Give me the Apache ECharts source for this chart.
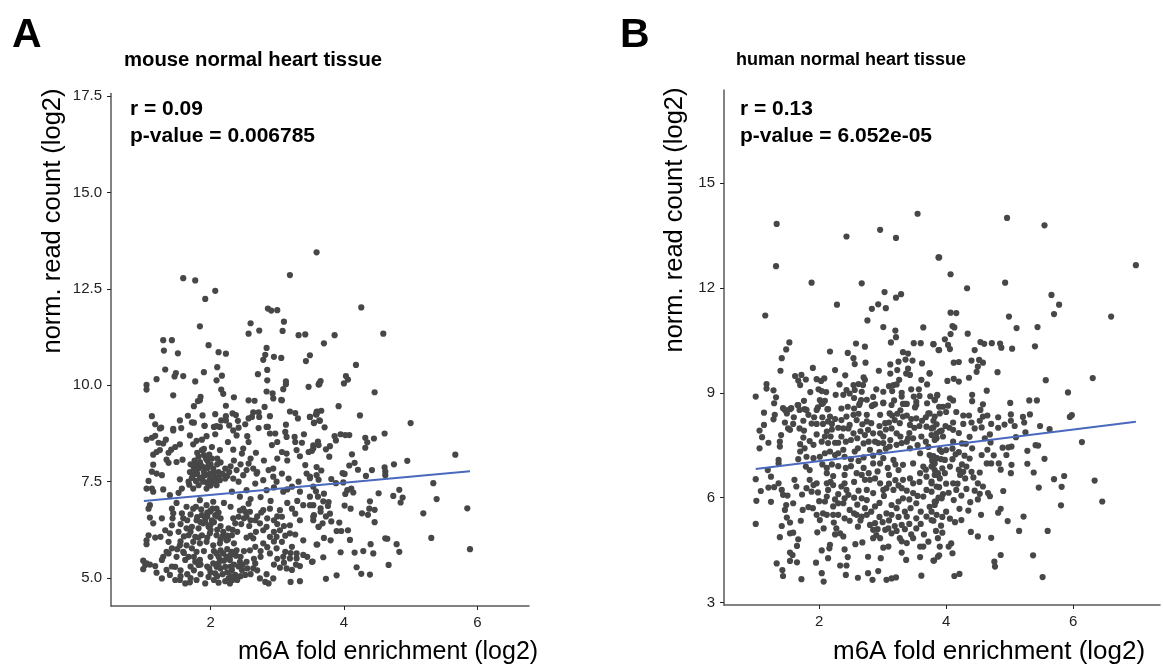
<!DOCTYPE html>
<html>
<head>
<meta charset="utf-8">
<style>html,body{margin:0;padding:0;background:#fff}#chart{width:1163px;height:664px}</style>
<script src="https://cdn.jsdelivr.net/npm/echarts@6/dist/echarts.min.js"></script>
</head>
<body>
<div id="chart"></div>
<script>
const mousePoints = [
[1.59,12.78],[1.77,12.72],[2.07,12.45],[1.92,12.24],[3.59,13.45],[3.19,12.86],[2.86,11.99],[2.91,11.94],[3.0,11.95],[3.10,11.65],[3.08,11.41],[2.60,11.61],[2.57,11.34],[2.73,11.42],[3.32,11.30],[3.42,11.32],[1.84,11.53],[1.29,11.17],[1.42,11.17],[1.30,10.90],[1.51,10.83],[1.97,11.04],[2.12,10.86],[2.23,10.82],[2.84,10.97],[2.82,10.79],[2.79,10.66],[2.95,10.74],[3.06,10.71],[3.49,10.78],[3.43,10.63],[1.32,10.41],[1.48,10.32],[1.46,10.23],[1.59,10.24],[1.19,10.16],[1.04,10.01],[1.04,9.89],[1.90,10.34],[1.77,10.10],[2.10,10.47],[2.17,10.25],[2.09,10.13],[2.85,10.40],[2.71,10.29],[2.85,10.13],[3.13,10.10],[3.13,10.03],[3.09,9.90],[3.47,9.96],[3.63,10.06],[3.62,10.02],[2.16,9.89],[2.19,9.78],[1.44,9.74],[1.85,9.70],[1.84,9.61],[1.81,9.59],[1.75,9.46],[2.35,9.69],[2.23,9.47],[2.57,9.61],[2.66,9.60],[2.84,9.84],[2.93,9.79],[2.94,9.66],[3.06,9.62],[3.07,9.61],[2.81,9.44],[1.12,9.20],[1.54,9.09],[1.66,9.21],[1.88,9.22],[2.07,9.25],[2.23,9.20],[2.33,9.27],[2.38,9.23],[2.64,9.30],[2.72,9.30],[2.62,9.18],[2.73,9.18],[2.57,9.14],[2.89,9.20],[3.19,9.32],[3.27,9.28],[3.31,9.14],[3.49,9.18],[3.60,9.32],[3.59,9.25],[3.55,9.03],[3.63,9.09],[2.16,9.09],[2.23,9.09],[2.41,9.08],[1.72,9.04],[1.75,9.03],[3.13,8.98],[1.91,8.95],[1.17,8.99],[1.26,8.90],[1.44,8.87],[1.56,8.89],[2.05,8.92],[2.14,8.92],[2.28,8.96],[2.52,8.99],[2.86,8.92],[2.72,8.89],[2.42,8.90],
[1.24,8.88],[1.44,8.83],[1.69,8.70],[1.04,8.59],[1.12,8.64],[1.17,8.69],[1.33,8.59],[1.22,8.51],[1.29,8.49],[1.54,8.47],[1.47,8.40],[1.41,8.33],[1.37,8.25],[1.24,8.32],[1.19,8.27],[1.14,8.20],[1.79,8.56],[1.87,8.59],[1.94,8.68],[2.07,8.73],[1.74,8.47],[2.02,8.40],[1.91,8.95],[2.09,8.94],[2.26,8.53],[2.34,8.83],[2.39,8.70],[2.55,8.68],[2.57,8.53],[2.49,8.36],[2.47,8.23],[2.14,8.32],[2.34,8.33],[2.68,8.25],[2.84,8.92],[2.89,8.75],[2.97,8.75],[3.12,8.79],[3.0,8.53],[2.92,8.45],[3.14,8.66],[3.26,8.66],[3.27,8.53],[3.37,8.51],[3.40,8.73],[3.07,8.27],[3.14,8.23],[3.29,8.32],[3.34,8.16],[3.47,8.27],[3.54,8.36],[3.62,8.45],
[1.34,8.07],[1.37,7.99],[1.49,8.01],[1.58,8.07],[1.14,7.94],[1.12,7.76],[1.19,7.71],[1.27,7.67],[1.07,7.52],[1.04,7.32],[1.12,7.32],[1.14,7.24],[1.29,7.30],[1.39,7.15],[1.54,7.56],[1.52,7.21],[1.57,7.32],[1.67,7.50],
[1.87,8.32],[1.90,8.19],[1.93,8.10],[1.84,8.01],[1.77,7.93],[1.82,7.84],[1.69,7.75],[1.74,7.67],[1.89,7.88],[1.97,7.93],[2.04,7.84],[1.99,7.71],[1.92,7.67],[1.84,7.58],[1.89,7.50],[1.99,7.54],[2.07,7.62],[2.12,7.75],[2.22,7.84],[2.14,7.54],[2.09,7.41],[1.82,7.41],[1.74,7.32],[1.94,7.32],[2.22,7.58],
[2.39,7.80],[2.57,7.97],[2.54,7.80],[2.64,7.84],[2.69,7.71],[2.49,7.67],[2.34,7.58],[2.42,7.50],[2.79,7.54],[2.94,7.84],[2.87,7.80],[2.94,7.63],[2.99,7.50],[3.07,7.71],[3.17,7.58],[3.32,7.50],[3.22,7.37],[3.09,7.24],[3.34,7.24],[3.44,7.71],[3.49,7.63],[3.59,7.67],[3.54,7.37],[3.42,7.93],[3.59,7.88],[2.67,7.45],[2.54,7.28],[2.84,7.28],[2.32,7.24],[2.44,7.11],
[1.49,6.95],[1.09,6.89],[1.07,6.80],[1.09,6.57],[1.14,6.42],[1.27,6.55],[1.07,6.11],[1.04,5.98],[1.04,5.88],[1.17,6.05],[1.25,6.07],[1.32,6.24],[1.42,6.80],[1.44,6.68],[1.43,6.55],[1.42,6.37],[1.39,6.16],[1.37,5.94],[1.57,6.68],[1.59,6.55],[1.64,6.85],[1.74,6.80],
[1.84,7.02],[1.94,6.89],[2.04,6.98],[2.09,6.80],[1.99,6.72],[1.87,6.63],[1.79,6.50],[1.92,6.55],[2.02,6.50],[2.07,6.63],[1.89,6.42],[1.97,6.33],[1.82,6.29],[1.72,6.33],[1.64,6.29],[1.67,6.11],[1.77,6.07],[1.87,6.11],[1.99,6.16],[2.09,6.11],[2.19,6.20],[2.27,6.29],[2.32,6.11],[2.37,6.42],[2.42,6.59],[2.34,6.55],[2.49,6.80],[2.57,6.93],[2.59,6.72],[2.54,6.59],[2.67,6.50],[2.74,6.42],[2.79,6.24],[2.84,6.33],[2.89,6.07],[2.79,6.76],[2.89,6.80],[3.04,6.76],[3.07,6.59],[3.22,6.80],[3.27,6.67],[3.39,6.89],[3.49,6.89],[3.54,6.59],[3.62,6.33],[3.34,6.50],[3.19,6.37],[3.19,6.16],[3.04,6.24],[2.99,6.07],[3.07,5.94],[2.79,5.90],[2.64,6.03],[2.54,6.05],[2.67,5.81],[2.59,5.72],[2.24,5.98],[2.14,5.90],[2.04,5.85],[1.94,5.94],[1.84,5.90],[1.74,5.94],[1.64,5.85],[1.54,5.85],[1.42,5.77],[1.34,5.68],[1.29,5.55],[1.27,5.47],[1.37,5.64],[1.59,5.68],[1.72,5.77],[1.79,5.68],[1.67,5.55],[1.77,5.42],[1.84,5.47],[1.82,5.34],[1.62,5.47],[1.49,5.55],[1.47,5.29],[1.34,5.21],[1.19,5.14],[1.27,4.99],[1.39,5.08],[1.47,4.95],[1.54,4.95],[1.62,4.86],[1.69,4.89],[1.79,4.95],[1.92,4.86],[1.97,5.03],[2.07,5.12],[2.09,5.29],[2.04,5.38],[2.14,5.47],[2.09,5.64],[2.19,5.64],[2.24,5.55],[2.32,5.68],[2.39,5.72],[2.29,5.47],[2.22,5.29],[2.32,5.21],[2.27,4.99],[2.29,4.86],[2.37,5.08],[2.47,5.21],[2.52,5.08],[2.44,5.42],[2.54,5.42],[2.67,5.38],[2.64,5.25],[2.89,5.64],[2.99,5.77],[3.12,5.68],[3.22,5.81],[3.29,5.64],[3.39,5.60],[3.09,5.55],[3.19,5.51],[3.29,5.51],[3.34,5.31],[3.22,5.21],[3.14,5.25],[3.04,5.27],[3.52,5.42],[3.59,5.87],[3.39,5.98],[3.27,6.13],[2.84,5.10],[2.74,4.99],[2.82,4.90],[2.87,4.86],[2.94,4.99],[3.20,4.90],[3.34,4.92],[0.99,5.45],[1.02,5.34],[0.99,5.23],[1.09,5.35],[1.17,5.31],[1.04,5.38],
[2.0,6.75],[2.1,6.6],[1.95,6.6],[2.05,6.45],[1.85,6.45],[2.15,6.35],[2.0,6.25],[2.25,6.1],[2.15,6.0],[2.35,5.9],[2.25,5.75],[2.3,5.6],[2.2,5.45],[2.35,5.35],[2.15,5.25],[2.25,5.15],[2.1,5.05],[2.3,5.05],[2.0,5.15],[2.45,5.05],[1.75,5.55],[1.85,5.35],[1.7,5.3],[1.6,5.65],[1.9,5.7],[2.0,5.55],[2.45,5.55],[2.5,5.7],[2.65,5.5],[2.75,5.55],[2.85,5.8],[2.95,5.95],[3.0,5.5],[1.9,7.75],[2.0,7.6],[1.95,7.85],[2.05,7.75],[1.8,7.7],[1.85,7.95],[1.95,8.05],[2.0,7.4],[1.75,7.85],
[1.7,7.95],[1.76,8.05],[1.82,8.15],[1.98,8.2],[2.02,8.1],[1.72,7.6],[1.78,7.52],[1.96,7.45],[2.06,7.5],[2.1,7.95],[2.15,8.0],[1.8,8.25],[1.68,7.42],[1.9,8.35],[1.95,7.48],[2.12,7.6],[2.18,7.7],[2.28,7.75],[2.3,7.9],[2.25,7.65],[2.0,7.95],[1.88,7.62],[1.78,7.75],[2.1,8.1],
[1.78,6.85],[1.86,6.78],[1.95,6.7],[2.03,6.8],[2.12,6.7],[2.15,6.55],[1.8,6.58],[1.92,6.45],[2.0,6.38],[2.1,6.25],[2.18,6.08],[2.26,6.0],[2.33,6.25],[2.4,6.2],[2.46,6.4],[2.5,6.55],[2.44,6.75],[2.52,6.72],[2.6,6.5],[2.58,6.35],[2.7,6.6],[2.76,6.7],[2.85,6.55],[2.95,6.5],[3.0,6.4],[3.1,6.35],[3.12,6.1],[2.95,6.2],[2.68,6.2],[2.6,6.1],[1.95,6.05],[1.82,6.05],[1.7,6.2],[1.6,6.08],[1.52,6.2],[1.55,6.4],[1.65,6.5],[1.7,6.65],[1.55,5.95],[1.5,5.75],
[2.05,5.7],[2.15,5.72],[2.12,5.55],[2.28,5.5],[2.38,5.58],[2.42,5.3],[2.3,5.3],[2.12,5.38],[1.98,5.25],[2.18,5.1],[2.33,4.95],[2.22,4.92],[2.4,4.95],[2.05,4.95],[2.12,4.88],[2.48,5.35],[2.55,5.25],[2.6,5.1],[1.95,5.3],[1.75,5.2],[1.65,5.1],[1.55,5.2],[1.42,5.3],[1.85,5.1],[1.7,5.0],[1.55,5.05],[2.7,5.2],[2.75,5.7],[2.95,5.35],[3.1,5.4],[3.2,5.65],[3.28,5.35],[3.45,5.55],[3.0,6.6],[3.15,6.95],[3.3,7.0],[2.6,7.05],[2.75,7.1],[2.9,7.0],[2.3,6.85],[2.2,6.95],[3.15,7.3],[2.95,7.35],[2.7,7.75],[2.45,7.95],[2.35,8.05],[2.6,8.1],[2.8,8.05],[3.0,8.1],[3.15,8.05],
[4.26,12.02],[3.86,11.30],[4.59,11.34],[3.70,11.09],[4.18,10.53],[4.03,10.24],[4.06,10.15],[4.00,10.05],[3.65,10.11],[3.63,10.03],[4.46,9.82],[3.92,9.46],[4.24,9.22],[5.0,9.02],[3.66,9.34],[3.59,9.31],[3.58,9.24],[3.49,9.18],[3.55,9.02],[3.64,9.08],[3.71,8.91],[3.86,8.68],[3.88,8.57],[3.95,8.73],[4.02,8.71],[4.08,8.71],[4.32,8.64],[4.35,8.52],[4.45,8.62],[4.61,8.75],[4.32,8.38],[3.61,8.54],[3.54,8.44],[3.52,8.30],[3.73,8.34],[3.79,8.42],[3.78,8.15],[4.12,8.21],[5.67,8.20],[4.95,8.04],[4.75,7.95],[4.16,7.99],[4.08,7.92],[4.21,7.81],[4.42,7.80],[4.61,7.87],[4.62,7.76],[4.62,7.67],[4.33,7.65],[3.66,7.79],[3.98,7.72],[4.01,7.70],[3.49,7.59],[3.62,7.55],[3.81,7.57],[3.88,7.46],[3.99,7.48],[5.34,7.46],[4.83,7.29],[4.74,7.13],[4.52,7.20],[4.11,7.32],[4.05,7.28],[4.02,7.18],[4.14,7.22],[3.70,7.19],[3.58,7.25],[3.61,7.11],[3.49,7.11],[3.69,6.99],[3.77,6.97],[3.76,6.87],[3.54,6.89],[3.65,6.81],[3.65,6.72],[4.01,6.88],[4.10,6.80],[4.39,6.99],[4.88,7.09],[4.85,6.96],[5.39,7.05],[5.85,6.81],[5.19,6.68],[4.38,6.80],[4.46,6.77],[4.27,6.68],[4.36,6.64],[4.46,6.45],[3.79,6.67],[3.73,6.60],[3.55,6.63],[3.54,6.50],[3.68,6.42],[3.81,6.47],[3.93,6.44],[3.62,6.33],[3.89,6.22],[3.96,6.22],[4.06,6.24],[3.70,6.04],[3.80,5.98],[4.09,5.99],[4.62,6.03],[4.65,6.02],[5.31,6.04],[3.60,5.87],[4.40,5.88],[4.79,5.88],[5.89,5.75],[3.95,5.67],[4.16,5.66],[4.29,5.70],[4.44,5.64],[4.83,5.68],[3.69,5.54],[3.53,5.43],[4.67,5.34],[4.19,5.28],[4.26,5.11],[4.39,5.09],[3.89,5.07],[3.73,4.98]
];
const humanPoints = [
[1.33,13.83],[1.32,12.62],[1.15,11.21],[1.88,12.15],[2.43,13.47],[2.96,13.66],[3.21,13.43],[3.55,14.12],[3.88,12.87],[2.67,12.13],[3.03,11.88],[3.21,11.72],[3.29,11.82],[2.28,11.52],[2.83,11.40],[2.93,11.53],[3.05,11.42],[2.76,11.07],[3.01,10.88],[3.20,10.78],[3.21,10.59],[3.64,10.87],[1.53,10.44],[1.48,10.24],[1.41,9.99],[1.39,9.63],[2.17,10.18],[2.45,10.14],[2.58,10.41],[2.72,10.32],[2.54,9.99],[2.56,9.82],[2.73,9.86],[3.13,10.44],[3.32,10.16],[3.40,10.12],[3.49,10.42],[3.60,10.42],[3.80,10.39],[3.88,10.22],[3.36,9.95],[3.47,9.92],[3.25,9.89],[3.12,9.81],[3.62,9.84],[3.40,9.69],[3.23,9.65],[2.94,9.63],[3.12,9.55],[3.37,9.55],[3.43,9.51],[3.74,9.55],[1.90,9.71],[2.25,9.65],[2.41,9.50],[1.62,9.48],[1.72,9.51],[1.67,9.35],[1.79,9.38],[1.70,9.22],[1.96,9.39],[2.08,9.41],[2.03,9.34],[2.32,9.24],[2.70,9.44],[2.72,9.37],[2.69,9.22],[2.62,9.25],[2.54,9.22],[2.56,9.08],[2.43,9.08],[2.48,8.98],[2.38,8.94],[2.26,8.94],[2.67,9.03],[3.01,9.03],[3.10,9.19],[3.17,9.22],[3.22,9.24],[3.26,9.37],[3.61,9.37],[3.70,9.24],[3.57,9.10],[1.17,9.25],[1.17,9.12],[1.28,9.07],[1.0,8.89],[1.32,8.87],[1.29,8.70],[1.86,9.02],[1.99,9.10],[2.04,9.05],[2.11,9.02],[1.76,8.77],[1.66,8.65],[2.01,8.79],[2.09,8.77],[2.04,8.68],[2.66,8.79],[2.63,8.65],[2.83,8.62],[2.88,8.67],[3.01,8.72],[3.18,8.78],[3.30,8.89],[3.32,8.68],[3.38,8.68],[3.49,8.89],[3.58,8.91],[3.53,8.74],[3.82,8.79],[3.86,8.92],[1.43,8.56],[1.56,8.56],[1.77,8.53],[1.98,8.58],[2.14,8.53],[3.51,8.58],
[1.13,8.43],[1.30,8.37],[1.28,8.24],[1.46,8.51],[1.54,8.53],[1.49,8.41],[1.67,8.65],[1.69,8.51],[1.80,8.51],[1.83,8.37],[1.96,8.51],[2.06,8.70],[2.13,8.53],[2.17,8.32],[1.13,8.08],[1.06,7.92],[1.10,7.73],[1.20,7.57],[1.06,7.41],[1.46,8.15],[1.51,7.98],[1.59,8.11],[1.69,7.98],[1.76,7.92],[1.40,7.79],[1.38,7.60],[1.38,7.46],[1.54,7.94],[1.96,8.11],[2.06,8.11],[2.14,8.18],[2.20,8.11],[1.96,7.81],[2.12,7.89],[2.09,7.75],[2.04,7.60],[2.14,7.56],[2.25,7.57],[2.30,7.57],[1.91,7.51],[1.70,7.53],[1.77,7.41],[1.70,7.32],[1.80,7.17],[1.67,7.10],[1.36,7.08],[1.36,6.98],[1.91,7.13],[2.01,7.17],[2.09,7.27],[2.17,7.32],[2.25,7.22],[2.30,7.27],[2.38,7.37],[2.40,7.17],[2.35,8.22],[2.43,8.32],[2.54,8.37],[2.59,8.22],[2.38,7.98],[2.48,8.08],[2.54,7.84],[2.46,7.98],
[2.75,8.18],[2.82,8.13],[2.77,7.94],[2.85,7.84],[2.72,7.79],[2.96,7.84],[3.01,7.75],[3.04,8.13],[3.11,8.41],[3.19,8.22],[3.27,8.13],[3.32,8.32],[3.14,7.98],[3.22,7.84],[3.30,7.56],[3.40,7.70],[3.48,7.70],[3.61,7.75],[3.69,8.03],[3.77,7.98],[3.85,7.84],[3.43,8.08],[3.53,8.27],[3.74,8.41],[2.64,8.70],[2.85,8.65],[3.01,8.70],[3.14,8.65],[3.35,8.68],[3.53,8.65],[3.72,8.41],[2.96,8.37],[2.75,8.37],[2.93,7.56],[3.01,7.56],[2.80,7.37],[2.61,7.41],[2.56,7.32],[3.11,7.46],[3.22,7.51],[3.43,7.41],[3.59,7.27],[3.74,7.22],[3.85,7.13],[3.90,7.37],
[1.19,6.79],[1.24,6.60],[1.0,6.53],[1.08,6.19],[1.20,6.29],[1.29,6.30],[1.36,6.41],[1.01,5.91],[1.24,5.88],[1.0,5.25],
[1.41,6.22],[1.43,6.08],[1.50,6.06],[1.59,5.84],[1.48,5.79],[1.46,5.65],[1.73,6.09],[1.74,5.65],[1.83,5.73],[1.61,6.51],[1.64,6.32],[1.80,6.27],[1.85,6.51],[1.91,6.36],[1.96,6.41],[1.88,6.17],[1.79,6.89],[1.85,6.79],[1.49,5.43],[1.54,5.29],[1.41,5.19],[1.38,4.87],[1.54,4.98],[1.59,5.0],[1.67,4.81],[1.65,4.62],[1.71,5.34],[1.96,5.51],[2.01,5.36],[2.06,5.55],[2.12,5.51],[2.22,5.51],[2.30,5.51],[2.23,5.29],[2.27,5.12],[2.25,4.95],[2.33,4.98],[2.38,4.89],[2.07,5.12],[1.97,5.01],[2.40,5.41],[2.48,5.34],[2.59,5.51],[2.61,5.17],[2.57,4.67],[2.68,4.72],[2.80,5.22],[2.88,5.27],[2.85,5.08],[2.90,4.93],[2.85,4.84],[2.96,4.84],[3.04,5.08],[3.09,5.12],[3.14,4.98],[3.01,4.57],[3.09,4.60],[3.30,4.43],[3.27,4.84],[3.38,4.70],[3.48,4.84],[3.59,4.60],[3.64,4.60],[3.72,4.74],[2.17,4.65],[2.16,4.55],[2.04,4.49],[2.14,4.27],[2.40,4.52],[2.45,4.30],[2.33,4.06],[2.43,4.06],[2.42,3.79],[2.61,3.71],[2.77,3.84],[2.84,3.65],[2.93,3.90],[2.77,4.31],[2.97,4.27],[3.06,3.65],[3.14,3.69],[3.21,3.72],[3.37,4.22],[3.59,4.30],[3.61,3.77],[3.80,4.20],[3.87,4.31],[1.54,4.43],[1.58,4.36],[1.54,4.19],[1.65,4.15],[1.33,4.12],[1.42,3.93],[1.43,3.76],[1.72,3.67],[1.95,4.14],[2.04,3.84],[2.07,3.60],
[2.12,6.70],[2.22,6.62],[2.12,6.41],[2.14,6.22],[2.12,6.03],[2.09,5.89],[2.22,6.36],[2.35,6.32],[2.40,6.65],[2.40,6.41],[2.43,6.22],[2.46,6.08],[2.40,5.98],[2.30,5.84],[2.38,5.84],[2.48,5.65],[2.59,6.70],[2.67,6.65],[2.72,6.51],[2.80,6.51],[2.88,6.55],[2.96,6.41],[3.01,6.22],[3.06,6.27],[3.17,6.22],[3.30,6.27],[3.25,6.79],[3.32,6.51],[3.43,6.55],[3.48,6.41],[3.59,6.70],[3.69,6.60],[3.77,6.46],[3.87,6.65],[2.75,6.22],[2.67,5.98],[2.75,5.93],[2.85,6.13],[2.72,5.70],[2.75,5.51],[2.67,5.46],[2.85,6.98],[2.96,6.98],[3.01,7.13],[3.17,7.08],[3.32,6.94],[3.48,6.98],[3.64,6.89],[3.80,6.94],[3.14,5.79],[3.25,5.89],[3.32,5.98],[3.22,5.70],[3.14,5.51],[3.06,5.55],[3.35,5.60],[3.38,5.46],[3.30,5.22],[3.19,5.19],[3.53,5.41],[3.53,5.12],[3.69,5.46],[3.77,5.36],[3.85,5.51],[3.82,5.89],[3.64,6.03],[3.48,6.13],[3.69,6.22],[3.85,6.32],[3.53,5.84],[3.74,5.74],
[2.2,7.95],[2.3,8.0],[2.25,8.25],[2.35,8.55],[2.45,8.6],[2.55,8.55],[2.62,8.4],[2.68,8.1],[2.65,7.9],[2.6,7.7],[2.5,7.65],[2.42,7.6],[2.35,7.75],[2.18,7.75],[2.7,7.55],[2.78,7.6],[2.88,7.6],[2.95,8.05],[3.05,7.95],[3.1,8.15],[3.15,8.35],[3.23,8.4],[3.28,8.5],[3.38,8.35],[3.45,8.25],[3.42,7.85],[3.5,8.0],[3.58,8.05],[3.62,8.2],[3.68,8.3],[3.8,8.2],[3.85,8.1],[3.9,7.9],[3.95,7.75],[3.68,7.6],[3.72,7.45],[3.55,7.5],[3.38,7.6],[3.28,7.75],[3.12,7.65],[3.05,7.4],[2.95,7.3],[2.85,7.2],[2.7,7.15],[2.62,7.05],[2.5,7.1],[2.5,6.9],[2.42,6.85],[2.3,6.9],[2.2,6.95],[2.05,6.95],[2.12,6.85],[2.7,6.85],[2.78,6.7],[2.92,6.75],[3.08,6.85],[3.2,6.95],[3.1,6.65],[3.2,6.5],[3.1,6.4],[3.25,6.35],[3.38,6.2],[3.55,6.05],[3.58,6.45],[3.68,6.8],[3.78,7.05],[3.92,7.1],[3.98,6.7],[4.0,6.4],[3.95,6.1],[3.6,5.6],[3.44,5.7],[3.42,5.95],[3.02,6.05],[2.95,5.85],[2.88,5.75],[2.82,5.6],[2.6,5.8],[2.55,6.0],[2.62,6.2],[2.55,6.45],[2.3,6.1],[2.25,5.95],[2.18,6.45],[1.98,6.15],[2.0,5.9],[1.9,5.7],[2.22,5.75],[2.55,5.55],[2.65,5.35],[2.95,5.45],[2.92,5.1],[3.0,5.3],[3.1,5.35],[3.25,5.45],[3.22,5.05],[3.35,5.1],[3.42,5.25],[3.6,5.25],[3.65,4.95],[3.45,4.95],[3.3,4.75],[3.92,5.2],[4.0,5.6],[3.9,6.55],[3.88,6.0],[1.75,7.72],[1.85,7.62],[1.88,8.12],[1.92,8.3],[2.05,8.3],[1.75,8.2],[1.6,8.3],[3.3,9.0],[3.45,9.1],[3.15,9.05],[2.85,8.88],[2.9,9.1],[2.75,8.8],[2.55,8.85],[3.7,8.7],[3.75,8.9],[3.95,8.6],[4.0,8.45],[4.05,8.0],[4.2,7.85],[4.25,7.55],[4.1,7.4],[4.2,7.3],[4.1,7.1],[4.25,6.95],[4.2,6.8],[4.3,6.55],[4.18,6.4],[4.32,6.25],[4.45,6.2],
[4.96,14.0],[5.55,13.79],[3.89,12.87],[4.07,12.39],[6.99,12.65],[4.33,11.99],[4.93,12.15],[5.66,11.80],[5.78,11.52],[5.70,11.25],[6.60,11.18],[4.99,11.18],[4.07,11.29],[4.16,11.28],[5.11,10.85],[5.44,10.88],[4.10,10.91],[4.13,10.87],[4.07,10.68],[4.34,10.69],[3.98,10.53],[3.80,10.39],[4.03,10.37],[3.89,10.22],[4.06,10.25],[4.54,10.45],[4.60,10.40],[4.72,10.42],[4.85,10.41],[4.87,10.29],[5.04,10.26],[5.40,10.33],[4.45,10.22],[4.12,9.86],[4.20,9.88],[4.40,9.92],[4.52,9.94],[4.58,9.86],[4.50,9.75],[4.48,9.60],[4.81,9.59],[3.74,9.56],[4.36,9.43],[4.12,9.40],[4.02,9.34],[4.20,9.32],[5.57,9.36],[6.31,9.42],[5.92,9.01],[4.64,9.06],[4.41,8.94],[4.41,8.76],[3.86,8.94],[3.82,8.79],[4.06,8.84],[4.11,8.78],[4.58,8.67],[5.01,8.71],[5.31,8.78],[5.43,8.78],[3.89,8.60],[4.03,8.63],[4.54,8.51],[4.16,8.45],[4.27,8.35],[4.36,8.35],[3.90,8.41],[3.82,8.32],[4.65,8.35],[4.82,8.30],[5.02,8.38],[5.21,8.31],[5.32,8.38],[5.23,8.15],[5.98,8.36],[5.95,8.31],[4.58,8.32],[4.53,8.20],[4.40,8.15],[4.27,8.11],[4.11,8.15],[3.99,8.05],[4.71,8.11],[5.02,8.20],[4.92,8.09],[5.08,8.05],[5.48,8.05],[4.82,8.0],[4.45,7.98],[4.56,8.01],[4.11,7.94],[3.93,7.92],[3.80,8.01],[5.25,7.87],[5.63,7.96],[4.69,7.81],[4.37,7.74],[5.10,7.73],[4.61,7.70],[4.70,7.58],[4.11,7.60],[4.31,7.54],[3.85,7.70],[6.14,7.59],[5.41,7.50],[5.45,7.49],[5.03,7.46],[4.98,7.44],[4.89,7.43],[4.41,7.41],[4.65,7.37],[4.0,7.36],[3.93,7.31],[5.28,7.34],[3.80,7.19],[4.15,7.24],[4.29,7.20],[4.37,7.12],[4.56,7.22],[4.75,7.21],[4.95,7.22],[5.55,7.11],[3.98,7.08],[3.82,6.98],[4.64,6.98],[4.71,6.98],[4.83,6.98],[5.03,6.94],[5.28,6.97],[4.06,6.89],[3.94,6.84],[4.86,6.80],[5.02,6.70],[5.38,6.72],[4.32,6.89],[4.27,6.74],[4.40,6.74],[4.53,6.72],[4.22,6.65],[4.43,6.58],[3.82,6.65],[5.86,6.62],[5.70,6.53],[6.34,6.49],[5.82,6.31],[5.46,6.29],[4.90,6.19],[4.50,6.41],[4.58,6.32],[4.11,6.41],[3.89,6.30],[4.16,6.22],[4.24,6.06],[4.53,6.11],[4.66,6.13],[4.69,6.04],[4.04,6.14],[3.93,5.98],[3.84,5.89],[4.12,5.93],[4.50,5.95],[4.38,5.87],[5.81,5.78],[6.46,5.89],[4.21,5.68],[4.35,5.63],[4.86,5.68],[4.82,5.57],[4.55,5.51],[5.22,5.46],[4.97,5.33],[3.94,5.45],[4.06,5.40],[4.24,5.36],[4.14,5.30],[3.80,5.34],[5.15,5.05],[5.60,5.05],[4.39,5.02],[3.94,5.0],[3.84,5.05],[4.50,4.89],[4.71,4.85],[3.87,4.84],[4.08,4.69],[4.04,4.60],[3.90,4.60],[4.10,4.41],[3.89,4.35],[3.81,4.2],[4.86,4.36],[5.37,4.35],[4.76,4.17],[4.77,4.03],[5.52,3.73],[4.13,3.76],[4.21,3.82],
[3.77,7.79],[3.82,7.65],[3.77,7.17],[3.85,7.13],[3.77,6.89],[3.82,6.79],[3.87,6.70],[3.77,6.41],[3.77,6.17],[3.82,5.79],[3.77,5.60]
];
const mouseFit = [[1.0,7.0],[5.89,7.77]];
const humanFit = [[1.0,6.82],[6.99,8.17]];
const mouseYTicks = [5, 7.5, 10, 12.5, 15, 17.5];
const humanYTicks = [3, 6, 9, 12, 15];
const xTicks = [2, 4, 6];
const xTitle = 'm6A fold enrichment (log2)';
const yTitle = 'norm. read count (log2)';

const axisColor = '#5a5a5a';
const FONT = '"Liberation Sans", Arial, sans-serif';
const chart = echarts.init(document.getElementById('chart'), null, {renderer: 'canvas'});

function xAx(gridIndex, min, max, ticks) {
  return {
    type: 'value', gridIndex, min, max,
    splitLine: {show: false},
    axisLine: {show: true, onZero: false, lineStyle: {color: axisColor, width: 1.5}},
    axisTick: {show: true, length: 4, customValues: ticks, lineStyle: {color: '#222', width: 1}},
    axisLabel: {show: true, customValues: ticks, color: '#222', fontSize: 15, fontFamily: FONT, margin: 9, hideOverlap: false, showMinLabel: true, showMaxLabel: true}
  };
}
function yAx(gridIndex, min, max, ticks, fmt) {
  return {
    type: 'value', gridIndex, min, max,
    splitLine: {show: false},
    axisLine: {show: true, onZero: false, lineStyle: {color: axisColor, width: 1.5}},
    axisTick: {show: true, length: 4, customValues: ticks, lineStyle: {color: '#222', width: 1}},
    axisLabel: {show: true, customValues: ticks, color: '#222', fontSize: 15, fontFamily: FONT, margin: 9, hideOverlap: false, formatter: fmt}
  };
}
function txt(left, top, text, fontSize, fontWeight, rotation) {
  const el = {type: 'text', x: left, y: top, silent: true,
    style: {text, fontSize, fontWeight: fontWeight || 'normal', fontFamily: FONT, fill: '#000', textAlign: 'left', textVerticalAlign: 'middle'}};
  if (rotation) { el.rotation = rotation; el.style.textAlign = 'center'; }
  return el;
}
function scatter(i, data) {
  return {type: 'scatter', xAxisIndex: i, yAxisIndex: i, data, symbolSize: 6.2, itemStyle: {color: '#474747', opacity: 1}, silent: true, animation: false, large: false};
}
function fit(i, data) {
  return {type: 'line', xAxisIndex: i, yAxisIndex: i, data, symbol: 'none', lineStyle: {color: '#4a69bd', width: 2}, silent: true, animation: false, z: 5};
}

chart.setOption({
  animation: false,
  backgroundColor: '#fff',
  grid: [
    {left: 111, top: 93.5, width: 418, height: 512.5},
    {left: 724, top: 90, width: 436, height: 515}
  ],
  xAxis: [xAx(0, 0.507, 6.775, xTicks), xAx(1, 0.5, 7.37, xTicks)],
  yAxis: [
    yAx(0, 4.275, 17.57, mouseYTicks, v => v.toFixed(1)),
    yAx(1, 2.93, 17.66, humanYTicks, v => String(v))
  ],
  series: [scatter(0, mousePoints), fit(0, mouseFit), scatter(1, humanPoints), fit(1, humanFit)],
  graphic: [
    txt(12, 36, 'A', 41, 'bold'),
    txt(620, 36, 'B', 41, 'bold'),
    txt(124, 60, 'mouse normal heart tissue', 20.3, 'bold'),
    txt(736, 60, 'human normal heart tissue', 18, 'bold'),
    txt(130, 109, 'r = 0.09', 21, 'bold'),
    txt(130, 136, 'p-value = 0.006785', 21, 'bold'),
    txt(740, 109, 'r = 0.13', 21, 'bold'),
    txt(740, 136, 'p-value = 6.052e-05', 21, 'bold'),
    txt(238, 652, xTitle, 25, 'normal'),
    txt(833, 652, xTitle, 26, 'normal'),
    txt(53, 221, yTitle, 25.5, 'normal', Math.PI / 2),
    txt(675, 220, yTitle, 25.5, 'normal', Math.PI / 2)
  ]
});
</script>
</body>
</html>
